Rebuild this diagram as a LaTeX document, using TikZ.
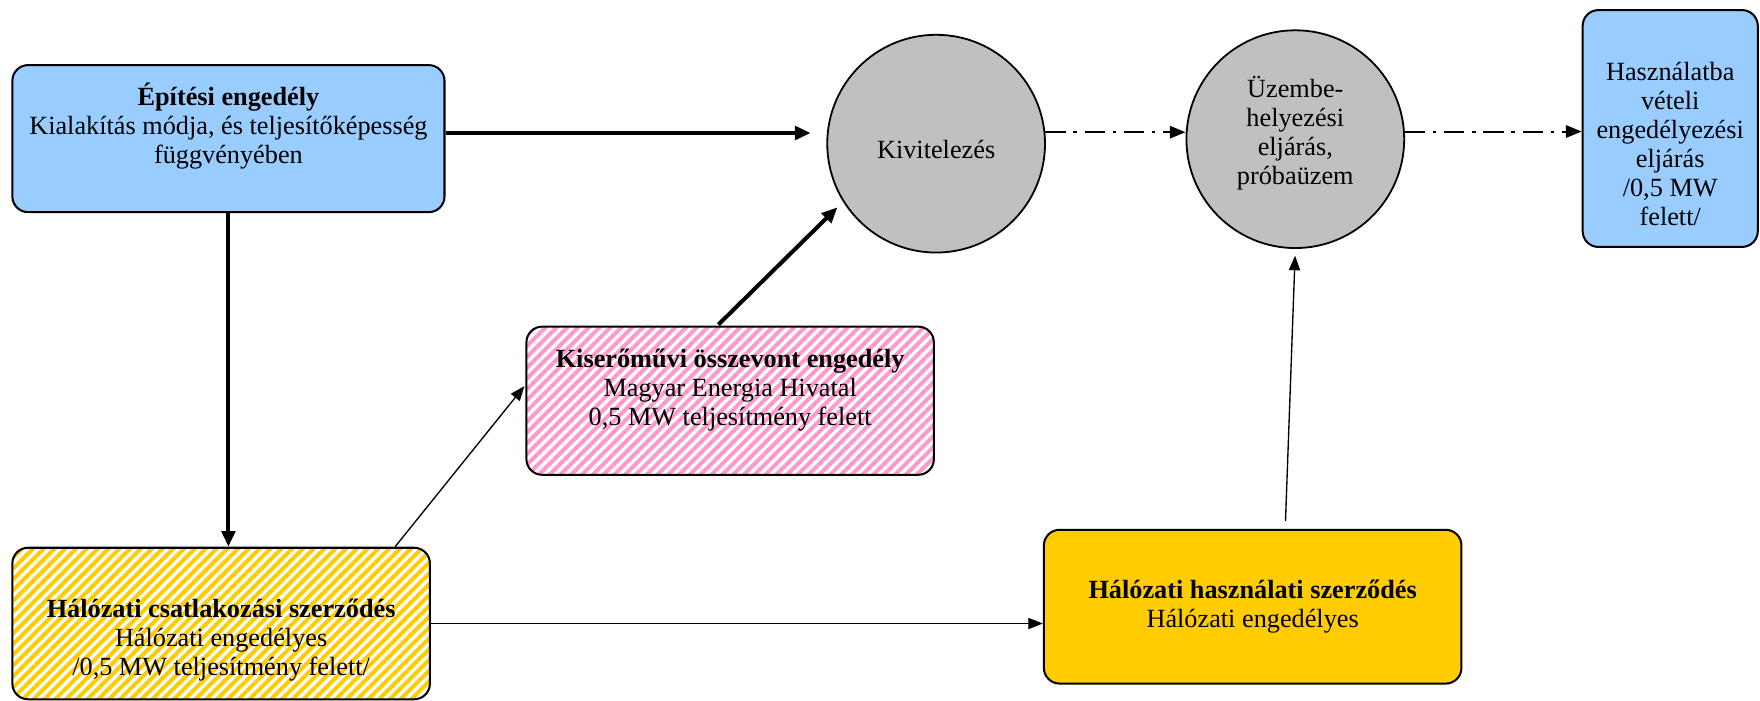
\documentclass[tikz,border=0pt]{standalone}
\usepackage{fontspec}
\setmainfont{Liberation Serif}
\usetikzlibrary{positioning,arrows.meta,patterns.meta,shapes}

\definecolor{kek}{HTML}{99CCFF}
\definecolor{szurke}{HTML}{C0C0C0}
\definecolor{sarga}{HTML}{FFCC00}
\definecolor{rozsa}{HTML}{FF99CC}

\begin{document}
\begin{tikzpicture}[x=0.5pt, y=-0.5pt,
  doboz/.style    = {draw, line width=0.9pt, rounded corners=7pt, inner sep=0pt},
  kor/.style      = {draw, circle, fill=szurke, line width=0.8pt, minimum size=97pt, inner sep=0pt},
  csikos/.style   = {pattern={Lines[angle=45, distance=3.4pt, line width=1.8pt]}, pattern color=#1},
  szoveg/.style   = {align=center, font=\fontsize{11.7}{12.9}\selectfont, inner sep=0pt},
  vastag/.style   = {-{Triangle[length=7pt, width=6pt]}, line width=1.8pt},
  vekony/.style   = {-{Triangle[length=6.5pt, width=5pt]}, line width=0.6pt},
  pontvonal/.style= {-{Triangle[length=7pt, width=5.5pt]}, line width=0.9pt,
                     dash pattern=on 9pt off 3.5pt on 1.5pt off 3.5pt}]
\useasboundingbox (0,0) rectangle (1568,624);

% dobozok es korok
\node[doboz, fill=kek, minimum width=192.5pt, minimum height=65.5pt]   (epit)    at (203.5,123.5) {};
\node[kor]                                                            (kivit)   at (834,128)     {};
\node[kor]                                                            (uzem)    at (1154,124)    {};
\node[doboz, fill=kek, minimum width=78pt, minimum height=105.5pt]     (hasznb)  at (1488,114.5)  {};
\node[doboz, csikos=rozsa, minimum width=181.5pt, minimum height=66pt] (kiser)   at (650.5,357)   {};
\node[doboz, csikos=sarga, minimum width=186pt, minimum height=67.5pt] (halcs)   at (197,555.5)   {};
\node[doboz, fill=sarga, minimum width=186pt, minimum height=68.5pt]   (halhasz) at (1116,540.5)  {};

% feliratok
\node[szoveg] (epit sz)    at ([yshift=5.5pt]epit.center)   {\textbf{Építési engedély}\\Kialakítás módja, és teljesítőképesség\\függvényében};
\node[szoveg] (kivit sz)   at ([yshift=-2.5pt]kivit.center) {Kivitelezés};
\node[szoveg] (uzem sz)    at ([yshift=2.5pt]uzem.center)   {Üzembe-\\helyezési\\eljárás,\\próbaüzem};
\node[szoveg] (hasznb sz)  at ([yshift=-7pt]hasznb.center)  {Használatba\\vételi\\engedélyezési\\eljárás\\/0,5 MW\\felett/};
\node[szoveg] (kiser sz)   at ([yshift=4.75pt]kiser.center) {\textbf{Kiserőművi összevont engedély}\\Magyar Energia Hivatal\\0,5 MW teljesítmény felett};
\node[szoveg] (halcs sz)   at ([yshift=-7.25pt]halcs.center){\textbf{Hálózati csatlakozási szerződés}\\Hálózati engedélyes\\/0,5 MW teljesítmény felett/};
\node[szoveg] (halhasz sz) at (halhasz.center)              {\textbf{Hálózati használati szerződés}\\Hálózati engedélyes};

% nyilak
\draw[vastag, shorten >=7pt] ([yshift=2.5pt]epit.east) -- ([yshift=2.5pt]epit.east -| kivit.west);
\draw[vastag] (epit.south) -- (epit.south |- halcs.north);
\draw[vastag, shorten >=3.5pt] ([xshift=-5.25pt]kiser.north) -- (kivit.212.5);
\draw[vekony] ([xshift=77.5pt]halcs.north) -- ([yshift=6.5pt]kiser.west);
\draw[vekony] (halcs.east) -- (halcs.east -| halhasz.west);
\draw[vekony, shorten <=3.5pt, shorten >=3pt] ([xshift=14.5pt]halhasz.north) -- (uzem.south);
\draw[pontvonal] (kivit.6) -- (kivit.6 -| uzem.west);
\draw[pontvonal] (uzem.4) -- (uzem.4 -| hasznb.west);
\end{tikzpicture}
\end{document}
